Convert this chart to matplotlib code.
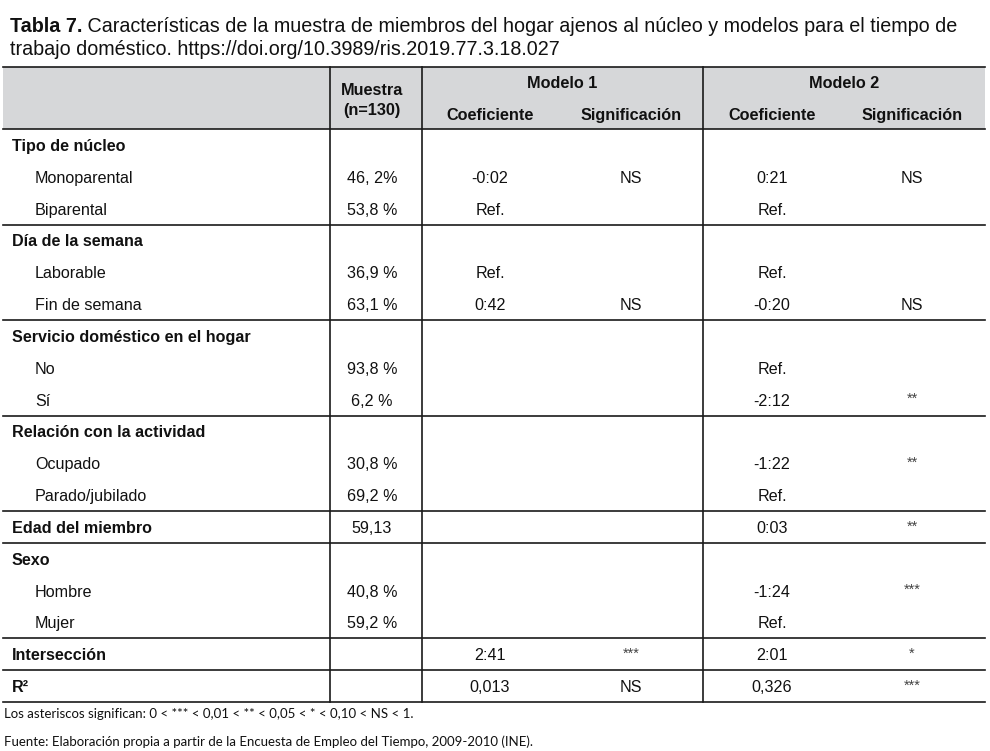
import matplotlib
matplotlib.use("Agg")
import matplotlib.pyplot as plt

# table content
row_labels = ["Tipo de núcleo", "Monoparental", "Biparental",
              "Día de la semana", "Laborable", "Fin de semana",
              "Servicio doméstico en el hogar", "No", "Sí",
              "Relación con la actividad", "Ocupado", "Parado/jubilado",
              "Edad del miembro",
              "Sexo", "Hombre", "Mujer",
              "Intersección", "R²"]
row_level = [0, 1, 1, 0, 1, 1, 0, 1, 1, 0, 1, 1, 0, 0, 1, 1, 0, 0]
group_end = [2, 5, 8, 11, 12, 15, 16, 17]
muestra = ["", "46, 2%", "53,8 %", "", "36,9 %", "63,1 %", "", "93,8 %", "6,2 %",
           "", "30,8 %", "69,2 %", "59,13", "", "40,8 %", "59,2 %", "", ""]
coef_m1 = ["", "-0:02", "Ref.", "", "Ref.", "0:42", "", "", "",
           "", "", "", "", "", "", "", "2:41", "0,013"]
sig_m1 = ["", "NS", "", "", "", "NS", "", "", "",
          "", "", "", "", "", "", "", "***", "NS"]
coef_m2 = ["", "0:21", "Ref.", "", "Ref.", "-0:20", "", "Ref.", "-2:12",
           "", "-1:22", "Ref.", "0:03", "", "-1:24", "Ref.", "2:01", "0,326"]
sig_m2 = ["", "NS", "", "", "", "NS", "", "", "**",
          "", "**", "", "**", "", "***", "", "*", "***"]

title_bold = "Tabla 7."
title_line1 = " Características de la muestra de miembros del hogar ajenos al núcleo y modelos para el tiempo de"
title_line2 = "trabajo doméstico. https://doi.org/10.3989/ris.2019.77.3.18.027"
note_1 = "Los asteriscos significan: 0 < *** < 0,01 < ** < 0,05 < * < 0,10 < NS < 1."
note_2 = "Fuente: Elaboración propia a partir de la Encuesta de Empleo del Tiempo, 2009-2010 (INE)."

W, H = 990, 751
fig = plt.figure(figsize=(W / 100, H / 100), dpi=100)
ax = fig.add_axes([0, 0, 1, 1])
ax.set_xlim(0, W)
ax.set_ylim(H, 0)
ax.axis("off")

FONT = "Liberation Sans"
FS = 11.6
TXT = "#111111"
LC = "#1a1a1a"

# layout (pixels)
x_left, x_right = 3, 985
x_v = [330, 422, 703]
y_top, y_head = 67, 129
row_h = (702 - y_head) / len(row_labels)
cx_muestra, cx_c1, cx_s1, cx_c2, cx_s2 = 372, 490, 631, 772, 912

# title
t = ax.text(10, 26.5, title_bold, fontsize=14.2, fontweight="bold", family=FONT,
            va="center", ha="left", color=TXT)
fig.canvas.draw()
bb = t.get_window_extent()
ax.text(10 + bb.width, 26.5, title_line1, fontsize=14.2, family=FONT,
        va="center", ha="left", color=TXT)
ax.text(10, 49.5, title_line2, fontsize=14.2, family=FONT,
        va="center", ha="left", color=TXT)

# header
ax.fill_between([x_left, x_right], y_top, y_head, color="#d6d7d9", lw=0, zorder=0)
ax.plot([x_left, x_right], [y_top, y_top], color=LC, lw=1.2)
ax.plot([x_left, x_right], [y_head, y_head], color=LC, lw=1.2)
hkw = dict(fontsize=11.7, fontweight="bold", family=FONT, ha="center", va="center", color=TXT)
ax.text(cx_muestra, 90.5, "Muestra", **hkw)
ax.text(cx_muestra, 110.5, "(n=130)", **hkw)
ax.text((x_v[1] + x_v[2]) / 2, 83.5, "Modelo 1", **hkw)
ax.text((x_v[2] + x_right) / 2, 83.5, "Modelo 2", **hkw)
ax.text(cx_c1, 115.5, "Coeficiente", **hkw)
ax.text(cx_s1, 115.5, "Significación", **hkw)
ax.text(cx_c2, 115.5, "Coeficiente", **hkw)
ax.text(cx_s2, 115.5, "Significación", **hkw)

# vertical rules
for xv in x_v:
    ax.plot([xv, xv], [y_top, 702], color=LC, lw=1.2)

# body
for i, lab in enumerate(row_labels):
    yc = y_head + row_h * (i + 0.5) + 1.5
    if row_level[i] == 0:
        ax.text(12, yc, lab, fontsize=FS, fontweight="bold", family=FONT,
                va="center", ha="left", color=TXT)
    else:
        ax.text(35, yc, lab, fontsize=FS, family=FONT, va="center", ha="left",
                color=TXT)
    for cx, val in [(cx_muestra, muestra[i]), (cx_c1, coef_m1[i]), (cx_c2, coef_m2[i])]:
        if val:
            ax.text(cx, yc, val, fontsize=FS, family=FONT, va="center", ha="center",
                    color=TXT)
    for cx, val in [(cx_s1, sig_m1[i]), (cx_s2, sig_m2[i])]:
        if not val:
            continue
        if val.startswith("*"):
            ax.text(cx, yc - 2, val, fontsize=10.5, family=FONT, va="center", ha="center",
                    color="#444444")
        else:
            ax.text(cx, yc, val, fontsize=FS, family=FONT, va="center", ha="center",
                    color=TXT)

for g in group_end:
    yl = y_head + row_h * (g + 1)
    ax.plot([x_left, x_right], [yl, yl], color=LC, lw=1.2)

# notes
ax.text(4, 714, note_1, fontsize=9.5, family="Lato", va="center", ha="left", color=TXT)
ax.text(4, 742, note_2, fontsize=9.5, family="Lato", va="center", ha="left", color=TXT)

fig.savefig("out.png", dpi=100)
